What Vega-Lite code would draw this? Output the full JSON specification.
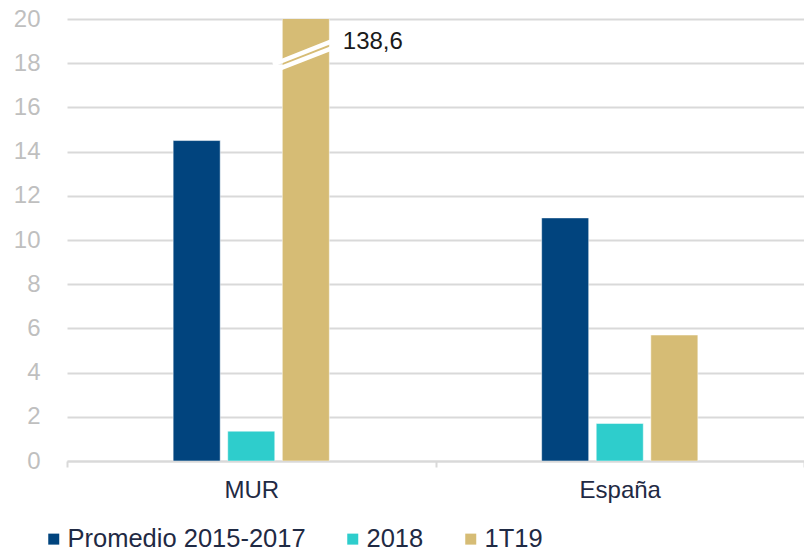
{
  "$schema": "https://vega.github.io/schema/vega-lite/v6.json",
  "autosize": {"type": "none"},
  "width": 737,
  "height": 442,
  "padding": {"left": 67, "top": 19, "right": 0, "bottom": 91},
  "background": "#ffffff",
  "config": {
    "font": "Liberation Sans",
    "view": {"stroke": null}
  },
  "datasets": {
    "barras": [
      {"region": "MUR", "serie": "Promedio 2015-2017", "valor": 14.5},
      {"region": "MUR", "serie": "2018", "valor": 1.35},
      {"region": "MUR", "serie": "1T19", "valor": 138.6, "etiqueta": "138,6"},
      {"region": "España", "serie": "Promedio 2015-2017", "valor": 11.0},
      {"region": "España", "serie": "2018", "valor": 1.7},
      {"region": "España", "serie": "1T19", "valor": 5.7}
    ],
    "corte": [
      {"xa": 0.559, "xb": 0.716, "ya": 17.94, "yb": 18.98},
      {"xa": 0.559, "xb": 0.716, "ya": 17.64, "yb": 18.66}
    ]
  },
  "layer": [
    {
      "data": {"name": "barras"},
      "encoding": {
        "x": {
          "field": "region", "type": "nominal", "sort": ["MUR", "España"],
          "scale": {"paddingInner": 0, "paddingOuter": 0},
          "axis": {
            "title": null, "labelAngle": 0, "labelFontSize": 24, "labelColor": "#1F2A44",
            "labelPadding": 11, "domainColor": "#D9D9D9", "domainWidth": 2,
            "tickColor": "#D9D9D9", "tickWidth": 2, "tickSize": 6, "tickBand": "extent",
            "grid": false
          }
        },
        "xOffset": {
          "field": "serie", "type": "nominal",
          "scale": {"domain": ["_a", "Promedio 2015-2017", "2018", "1T19", "_b"], "paddingInner": 0.138, "paddingOuter": 0.945}
        }
      },
      "layer": [
        {
          "mark": {"type": "bar", "clip": true, "stroke": "#ffffff", "strokeOpacity": 0.5, "strokeWidth": 1},
          "encoding": {
            "y": {
              "field": "valor", "type": "quantitative",
              "scale": {"domain": [0, 20], "nice": false},
              "axis": {
                "title": null, "values": [0, 2, 4, 6, 8, 10, 12, 14, 16, 18, 20],
                "labelFontSize": 24, "labelColor": "#BFBFBF", "labelPadding": 27,
                "domain": false, "ticks": false, "gridColor": "#D9D9D9", "gridWidth": 2
              }
            },
            "color": {
              "field": "serie", "type": "nominal", "sort": ["Promedio 2015-2017", "2018", "1T19"],
              "scale": {"domain": ["Promedio 2015-2017", "2018", "1T19"], "range": ["#01447E", "#2ECDCC", "#D6BC75"]},
              "legend": {
                "title": null, "orient": "none", "direction": "horizontal",
                "legendX": -26, "legendY": 507,
                "symbolType": "square", "symbolSize": 121, "symbolStrokeWidth": 0,
                "labelFontSize": 25.5, "labelColor": "#1F2A44", "columnPadding": 34, "labelOffset": 1,
                "labelLimit": 400
              }
            }
          }
        },
        {
          "transform": [{"filter": "datum.valor > 20"}],
          "mark": {"type": "text", "align": "left", "baseline": "middle", "dx": 37, "fontSize": 24, "color": "#1A1A1A"},
          "encoding": {
            "y": {"datum": 18.98},
            "text": {"field": "etiqueta"}
          }
        }
      ]
    },
    {
      "data": {"name": "corte"},
      "mark": {"type": "rule", "color": "#ffffff", "strokeWidth": 4.5},
      "encoding": {
        "x": {"field": "xa", "type": "quantitative", "scale": {"domain": [0, 2], "nice": false, "zero": false}, "axis": null},
        "x2": {"field": "xb"},
        "y": {"field": "ya", "type": "quantitative"},
        "y2": {"field": "yb"}
      }
    }
  ],
  "resolve": {"scale": {"x": "independent"}, "axis": {"x": "independent"}}
}
